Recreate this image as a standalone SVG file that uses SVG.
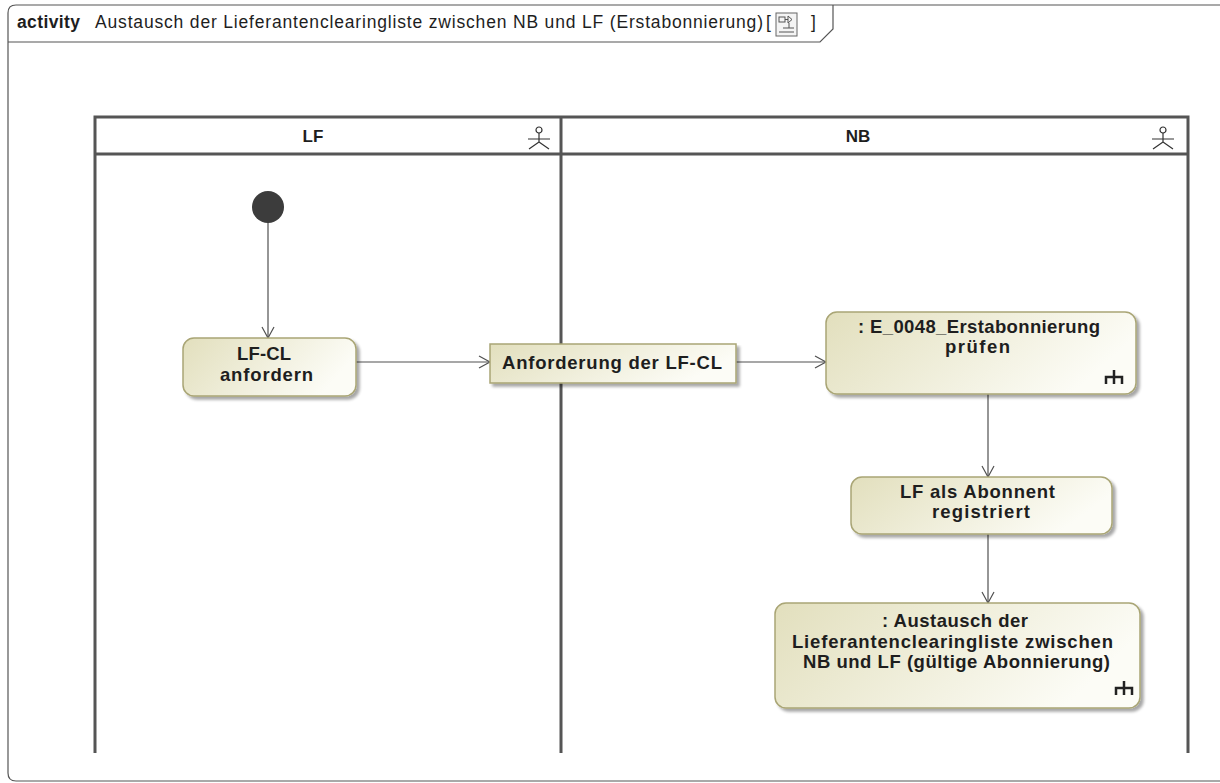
<svg xmlns="http://www.w3.org/2000/svg" width="1220" height="783" viewBox="0 0 1220 783">
<defs>
<linearGradient id="g" x1="0" y1="0" x2="1" y2="0.3">
<stop offset="0" stop-color="#e2dfbd"/>
<stop offset="1" stop-color="#fcfcf6"/>
</linearGradient>
<marker id="arr" markerWidth="14" markerHeight="14" refX="12" refY="7" orient="auto" markerUnits="userSpaceOnUse">
<path d="M1,1 L12,7 L1,13" fill="none" stroke="#505050" stroke-width="1.2"/>
</marker>
<filter id="sh" x="-5%" y="-5%" width="115%" height="125%">
<feGaussianBlur in="SourceAlpha" stdDeviation="1.5"/>
<feOffset dx="3" dy="3"/>
<feComponentTransfer><feFuncA type="linear" slope="0.35"/></feComponentTransfer>
<feMerge><feMergeNode/><feMergeNode in="SourceGraphic"/></feMerge>
</filter>
</defs>
<style>
.t{font-family:"Liberation Sans",Arial,sans-serif;fill:#1e1e1e}
.b{font-weight:bold;font-size:18.5px}
.act{fill:url(#g);stroke:#a9a575;stroke-width:1.5;filter:url(#sh)}
.lane{fill:none;stroke:#555;stroke-width:3}
.edge{fill:none;stroke:#505050;stroke-width:1.2;marker-end:url(#arr)}
.ic{fill:none;stroke:#333;stroke-width:1.2}
.rk{fill:none;stroke:#222;stroke-width:2.5}
</style>
<rect width="1220" height="783" fill="#fff"/>
<g id="frame">
<path d="M1222,5 H16 Q8,5 8,13 V773 Q8,781 16,781 H1222" fill="none" stroke="#555" stroke-width="1.2"/>
<path d="M8,42 H820 L833,29 V5" fill="none" stroke="#555" stroke-width="1.2"/>
<text class="t" x="17" y="28" font-size="17.5" font-weight="bold" textLength="63" lengthAdjust="spacing">activity</text>
<text class="t" x="95" y="28" font-size="17.5" textLength="668" lengthAdjust="spacing">Austausch der Lieferantenclearingliste zwischen NB und LF (Erstabonnierung)</text>
<text class="t" x="766" y="28" font-size="17.5">[</text>
<g transform="translate(776,13)">
<rect x="0" y="0" width="21" height="23" fill="#f4f4f4" stroke="#666" stroke-width="1"/>
<rect x="3" y="4" width="6" height="5" fill="none" stroke="#555" stroke-width="1"/>
<path d="M9,6.5 H12 M12,3 L16,6.5 L12,10 Z M13,10 V15 M7,15 H18 M3,19 H18" fill="none" stroke="#555" stroke-width="1"/>
</g>
<text class="t" x="811" y="28" font-size="17.5">]</text>
</g>
<g id="lanes">
<path class="lane" d="M95,753 V117 H1188 V753 M561,117 V753 M95,154 H1188"/>
<text class="t" x="313" y="142" font-size="17" font-weight="bold" text-anchor="middle">LF</text>
<text class="t" x="858" y="142" font-size="17" font-weight="bold" text-anchor="middle">NB</text>
<g class="ic" transform="translate(539,127)">
<circle cx="0" cy="3" r="3"/><path d="M0,6 V15 M-11,12 H11 M0,15 L-10,22 M0,15 L10,22"/>
</g>
<g class="ic" transform="translate(1163,127)">
<circle cx="0" cy="3" r="3"/><path d="M0,6 V15 M-11,12 H11 M0,15 L-10,22 M0,15 L10,22"/>
</g>
</g>
<g id="edges">
<path class="edge" d="M268,222 V338"/>
<path class="edge" d="M356,362 H490"/>
<path class="edge" d="M736,362 H826"/>
<path class="edge" d="M988,394 V477"/>
<path class="edge" d="M988,534 V603"/>
</g>
<g id="initial">
<circle cx="268" cy="207" r="16" fill="#3c3c3c"/>
</g>
<g id="lfcl">
<rect class="act" x="183" y="338" width="173" height="58" rx="11"/>
<text class="t b" x="237" y="360" textLength="54" lengthAdjust="spacing">LF-CL</text>
<text class="t b" x="220" y="381" textLength="93" lengthAdjust="spacing">anfordern</text>
</g>
<g id="obj">
<rect class="act" x="490" y="344" width="246" height="39"/>
<text class="t b" x="502" y="369" textLength="220" lengthAdjust="spacing">Anforderung der LF-CL</text>
</g>
<g id="e0048">
<rect class="act" x="826" y="312" width="310" height="82" rx="11"/>
<text class="t b" x="858" y="333" textLength="242" lengthAdjust="spacing">: E_0048_Erstabonnierung</text>
<text class="t b" x="945" y="353" textLength="65" lengthAdjust="spacing">prüfen</text>
<path class="rk" d="M1114,370 V384 M1106,384 V377 H1122 V384"/>
</g>
<g id="registriert">
<rect class="act" x="851" y="477" width="261" height="57" rx="11"/>
<text class="t b" x="900" y="498" textLength="155" lengthAdjust="spacing">LF als Abonnent</text>
<text class="t b" x="932" y="518" textLength="98" lengthAdjust="spacing">registriert</text>
</g>
<g id="austausch">
<rect class="act" x="775" y="603" width="365" height="105" rx="11"/>
<text class="t b" x="882" y="627" textLength="146" lengthAdjust="spacing">: Austausch der</text>
<text class="t b" x="792" y="648" textLength="321" lengthAdjust="spacing">Lieferantenclearingliste zwischen</text>
<text class="t b" x="803" y="668" textLength="307" lengthAdjust="spacing">NB und LF (gültige Abonnierung)</text>
<path class="rk" d="M1124,681 V695 M1116,695 V688 H1132 V695"/>
</g>
</svg>
